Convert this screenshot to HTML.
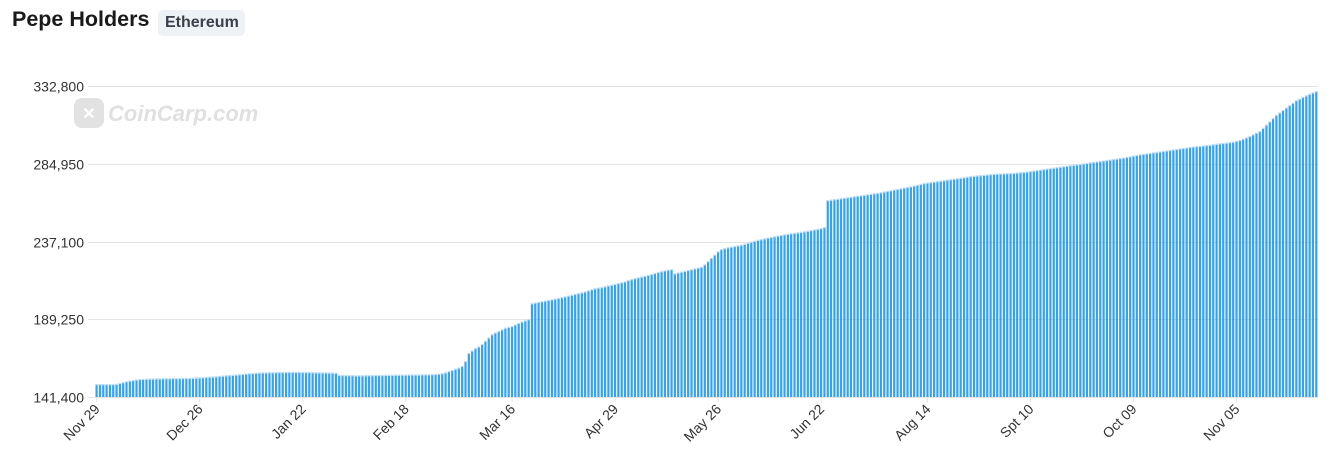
<!DOCTYPE html>
<html><head><meta charset="utf-8"><style>
body{margin:0;background:#fff;width:1336px;height:470px;overflow:hidden;font-family:"Liberation Sans",sans-serif}
#title{position:absolute;left:12px;top:7px;font-size:21.5px;font-weight:bold;color:#1a1a1a}
#badge{position:absolute;left:158px;top:10px;width:87px;box-sizing:border-box;height:26px;padding:0 7px;line-height:26px;background:#eef1f6;border-radius:5px;font-size:16px;font-weight:bold;color:#3a3f4a}
</style></head><body>
<div id="title">Pepe Holders</div>
<div id="badge">Ethereum</div>
<svg id="chart" width="1336" height="470" style="position:absolute;left:0;top:0"></svg>
<script>
const categoryLabels=["Nov 29","Dec 26","Jan 22","Feb 18","Mar 16","Apr 29","May 26","Jun 22","Aug 14","Spt 10","Oct 09","Nov 05"];
const labelIndex=[0,31,62,93,125,156,187,218,250,281,312,343];
const yTicks=[141400,189250,237100,284950,332800];
const holdersK=[
148.8,148.8,148.8,148.8,148.8,148.8,149.0,149.5,150.0,150.5,
151.0,151.3,151.6,151.9,152.0,152.1,152.2,152.2,152.3,152.3,
152.4,152.4,152.4,152.5,152.5,152.5,152.5,152.6,152.6,152.7,
152.8,152.9,153.0,153.2,153.4,153.5,153.6,153.8,154.0,154.2,
154.3,154.5,154.7,154.9,155.1,155.3,155.5,155.6,155.8,155.9,
156.0,156.0,156.1,156.1,156.2,156.2,156.2,156.3,156.3,156.3,
156.3,156.3,156.2,156.2,156.2,156.1,156.1,156.0,156.0,156.0,
155.9,155.9,155.8,154.5,154.4,154.3,154.3,154.3,154.2,154.2,
154.2,154.3,154.3,154.3,154.4,154.4,154.4,154.5,154.5,154.5,
154.6,154.6,154.6,154.6,154.7,154.7,154.7,154.7,154.8,154.8,
154.8,154.9,155.0,155.2,155.5,156.0,156.8,157.5,158.3,159.0,
160.0,163.0,168.0,169.5,171.0,172.0,173.5,175.5,177.5,179.5,
180.5,181.5,182.5,183.5,184.0,184.5,185.5,186.5,187.3,188.0,
188.8,198.6,199.0,199.4,199.8,200.2,200.6,201.0,201.4,201.8,
202.3,202.8,203.3,203.8,204.3,204.8,205.3,205.8,206.5,207.2,
207.8,208.2,208.5,209.0,209.5,210.0,210.5,211.0,211.5,212.0,
212.8,213.4,214.0,214.5,215.0,215.5,216.0,216.6,217.2,217.8,
218.3,218.8,219.2,219.5,217.0,217.5,218.0,218.5,219.0,219.5,
220.0,220.5,221.0,222.5,224.5,226.5,228.5,230.5,231.9,232.5,
233.0,233.4,233.8,234.2,234.6,235.2,235.8,236.4,237.0,237.6,
238.0,238.5,239.0,239.4,239.8,240.2,240.6,241.0,241.3,241.6,
241.9,242.2,242.5,242.8,243.2,243.6,244.0,244.4,244.8,245.4,
262.0,262.3,262.6,262.9,263.2,263.5,263.8,264.1,264.4,264.7,
265.0,265.3,265.6,265.9,266.2,266.5,266.9,267.3,267.7,268.1,
268.5,268.9,269.3,269.7,270.1,270.5,271.0,271.5,272.0,272.5,
272.8,273.1,273.4,273.7,274.0,274.3,274.6,274.9,275.2,275.5,
275.8,276.1,276.4,276.8,277.0,277.2,277.4,277.6,277.8,278.0,
278.2,278.3,278.4,278.5,278.6,278.7,278.8,279.0,279.2,279.4,
279.6,279.9,280.2,280.5,280.8,281.1,281.4,281.7,282.0,282.3,
282.6,282.9,283.2,283.5,283.8,284.1,284.3,284.6,284.9,285.2,
285.5,285.8,286.1,286.4,286.7,287.0,287.3,287.6,287.9,288.2,
288.6,289.0,289.4,289.8,290.2,290.5,290.8,291.1,291.4,291.7,
292.0,292.3,292.6,292.9,293.2,293.5,293.8,294.1,294.4,294.7,
295.0,295.2,295.4,295.6,295.9,296.1,296.4,296.7,297.0,297.2,
297.4,297.7,298.0,298.5,299.0,299.8,300.6,301.5,302.5,303.5,
304.5,306.5,308.5,310.5,312.5,314.5,316.0,317.5,319.0,320.5,
322.0,323.5,324.5,325.5,326.5,327.5,328.3,329.1];

const NS="http://www.w3.org/2000/svg";
const svg=document.getElementById('chart');
const L=95,R=1318,T=86,B=397,yMin=141400,yMax=332800;
const n=holdersK.length,pitch=(R-L)/n;
function yS(v){return B-(v-yMin)/(yMax-yMin)*(B-T);}
function xS(i){return L+i*pitch;}
function mk(tag,attrs){const e=document.createElementNS(NS,tag);for(const k in attrs)e.setAttribute(k,attrs[k]);svg.appendChild(e);return e;}

const wm=document.createElementNS(NS,'g');


wm.innerHTML='<rect x="74" y="98" width="30" height="30" rx="8" fill="#e2e2e2"/><text x="89" y="119" text-anchor="middle" font-size="16" font-weight="bold" fill="#fff">✕</text><text x="108" y="121" font-size="22" font-weight="bold" font-style="italic" fill="#e0e0e0" font-family="Liberation Sans, sans-serif">CoinCarp.com</text>';
svg.appendChild(wm);

yTicks.forEach((t,k)=>{
  const y=Math.round(yS(t))+0.5;
  const g=mk('line',{x1:88,x2:R,y1:y,y2:y,stroke:'#e3e3e3','stroke-width':1});
  
  
  const tx=mk('text',{x:84,y:y+5,'text-anchor':'end','font-size':14,fill:'#333'});
  tx.textContent=t.toLocaleString('en-US');
  
  
});

holdersK.forEach((v,i)=>{
  const x=xS(i)+0.5,w=pitch-1.1,y=yS(v*1000);
  const b=mk('rect',{x:x,y:y,width:w,height:B-y,fill:'#36a2eb'});
  
  
  const c=mk('rect',{x:x-0.3,y:y-1,width:w+0.6,height:1.3,fill:'#b8dcf6'});
  
  
});

labelIndex.forEach((idx,k)=>{
  const x=xS(idx)+pitch/2;
  const tk=mk('line',{x1:x,x2:x,y1:B,y2:B+5,stroke:'#e3e3e3'});
  
  
  const t=mk('text',{x:x+4,y:B+13,'text-anchor':'end','font-size':14,fill:'#333',transform:`rotate(-45 ${x+4} ${B+13})`});
  t.textContent=categoryLabels[k];
  
  
});
</script>
</body></html>
